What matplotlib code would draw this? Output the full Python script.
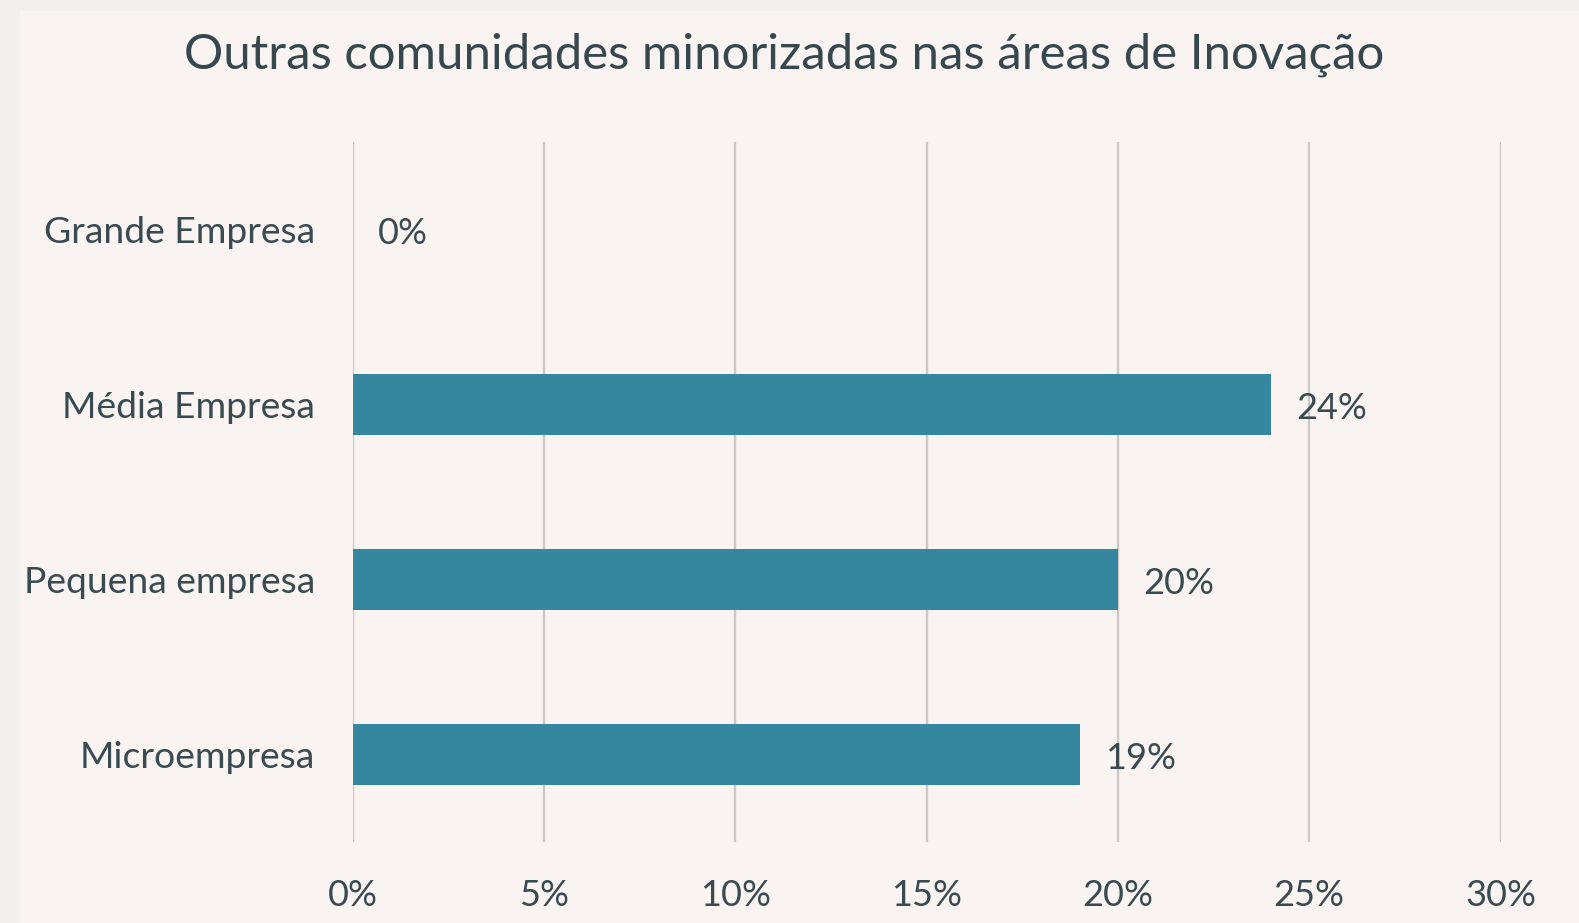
import matplotlib
matplotlib.use("Agg")
import matplotlib.pyplot as plt
from matplotlib.patches import Rectangle

categories = ["Grande Empresa", "Média Empresa", "Pequena empresa", "Microempresa"]
values = [0, 24, 20, 19]
xticks = [0, 5, 10, 15, 20, 25, 30]
xtick_labels = ["0%", "5%", "10%", "15%", "20%", "25%", "30%"]
title = "Outras comunidades minorizadas nas áreas de Inovação"

W, H = 1579, 923
plt.rcParams['font.family'] = ['Lato', 'DejaVu Sans']
text_color = "#3a4a51"
bar_color = "#35869f"
grid_color = "#cbc8c7"
panel_color = "#f9f4f2"

fig = plt.figure(figsize=(W / 100, H / 100), dpi=100)
fig.patch.set_facecolor("#f1f0ee")
fig.patches.append(Rectangle((20 / W, 0), 1 - 20 / W, 1 - 11 / H,
                             transform=fig.transFigure, facecolor=panel_color,
                             edgecolor="none", zorder=-10))

ax = fig.add_axes([352.5 / W, 1 - 842 / H, (1500.5 - 352.5) / W, (842 - 142) / H])
ax.set_facecolor("none")

ypos = list(range(len(categories)))
ax.barh(ypos, values, height=0.35, color=bar_color, zorder=3)
ax.set_ylim(len(categories) - 0.5, -0.5)
ax.set_xlim(0, 30)
ax.set_xticks(xticks)
ax.set_xticklabels(xtick_labels)
ax.set_yticks(ypos)
ax.set_yticklabels(categories)

for s in ax.spines.values():
    s.set_visible(False)
ax.grid(axis="x", color=grid_color, linewidth=1.7, zorder=0)
ax.tick_params(axis="both", length=0, labelcolor=text_color)
ax.tick_params(axis="x", pad=27, labelsize=26)
ax.tick_params(axis="y", pad=27, labelsize=26.8)

for y, v in zip(ypos, values):
    ax.annotate(f"{v}%", xy=(v, y), xytext=(18, -3), textcoords="offset points",
                ha="left", va="center", fontsize=26, color=text_color)

fig.text(784 / W, 1 - 55 / H, title, ha="center", va="center",
         fontsize=35.4, color="#36474d")

fig.savefig("out.png", dpi=100, facecolor=fig.get_facecolor())
